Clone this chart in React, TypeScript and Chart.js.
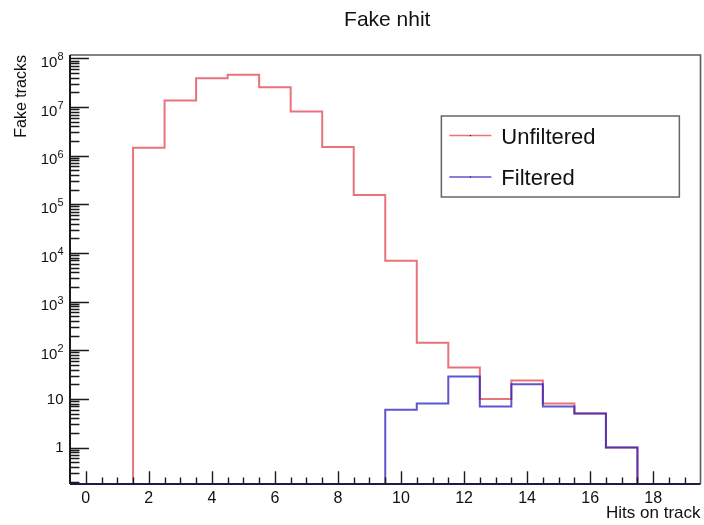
import React, { useEffect, useRef } from "react";
import { Chart, registerables } from "chart.js";

Chart.register(...registerables);

const binCenters = [2, 3, 4, 5, 6, 7, 8, 9, 10, 11, 12, 13, 14, 15, 16, 17];
const unfiltered = [1.45e6, 1.36e7, 3.9e7, 4.6e7, 2.55e7, 8.1e6, 1.5e6, 1.55e5, 6.9e3, 143, 44, 10, 24, 8, 5, 1];
const filtered = [0, 0, 0, 0, 0, 0, 0, 0, 6, 8, 29, 7, 20, 7, 5, 1];
const xTickValues = [0, 2, 4, 6, 8, 10, 12, 14, 16, 18];
const yTickValues = [1, 10, 1e2, 1e3, 1e4, 1e5, 1e6, 1e7, 1e8];
const seriesLabels = ["Unfiltered", "Filtered"];
const titleText = "Fake nhit";
const xTitle = "Hits on track";
const yTitle = "Fake tracks";

const FLOOR = 0.01;
const FONT = "'Liberation Sans', Arial, Helvetica, sans-serif";
const RED = "rgba(220,40,50,0.65)";
const BLUE = "rgba(40,30,190,0.75)";

function histPoints(centers: number[], values: number[]) {
  const i0 = values.findIndex((v) => v > 0);
  let i1 = values.length - 1;
  while (i1 >= 0 && !(values[i1] > 0)) i1--;
  const pts: { x: number; y: number }[] = [];
  if (i0 < 0) return pts;
  pts.push({ x: centers[i0] - 0.5, y: FLOOR });
  for (let i = i0; i <= i1; i++) {
    pts.push({ x: centers[i] - 0.5, y: values[i] > 0 ? values[i] : FLOOR });
  }
  pts.push({ x: centers[i1] + 0.5, y: FLOOR });
  return pts;
}

const decorPlugin = {
  id: "rootDecor",
  afterDatasetsDraw(chart: any) {
    const { ctx, chartArea } = chart;
    const { left, right, top, bottom } = chartArea;
    const xs = chart.scales.x;
    const ys = chart.scales.y;
    ctx.save();
    // frame
    ctx.lineCap = "butt";
    ctx.strokeStyle = "#5a5a5a";
    ctx.lineWidth = 1.6;
    ctx.beginPath();
    ctx.moveTo(left, top);
    ctx.lineTo(right, top);
    ctx.lineTo(right, bottom);
    ctx.stroke();
    ctx.strokeStyle = "#1a1a1a";
    ctx.lineWidth = 2;
    ctx.beginPath();
    ctx.moveTo(left, top);
    ctx.lineTo(left, bottom);
    ctx.stroke();
    ctx.strokeStyle = "#1c1c4a";
    ctx.beginPath();
    ctx.moveTo(left, bottom);
    ctx.lineTo(right, bottom);
    ctx.stroke();

    // y ticks
    const yMajor = 0.03 * (right - left);
    ctx.strokeStyle = "#1a1a1a";
    ctx.lineWidth = 1.4;
    ctx.beginPath();
    for (let e = -1; e <= 8; e++) {
      for (let k = 1; k <= 9; k++) {
        const v = k * Math.pow(10, e);
        if (v < ys.min || v > ys.max) continue;
        const py = Math.round(ys.getPixelForValue(v)) + 0.5;
        const len = k === 1 ? yMajor : yMajor / 2;
        ctx.moveTo(left, py);
        ctx.lineTo(left + len, py);
      }
    }
    ctx.stroke();

    // y tick labels (10 with superscript exponent)
    ctx.fillStyle = "#111";
    ctx.textBaseline = "middle";
    ctx.textAlign = "right";
    const lx = left - 6.5;
    yTickValues.forEach((v) => {
      const py = ys.getPixelForValue(v);
      const e = Math.round(Math.log10(v));
      if (e <= 1) {
        ctx.font = `15px ${FONT}`;
        ctx.fillText(e === 0 ? "1" : "10", lx, py + 0.5);
      } else {
        ctx.font = `11px ${FONT}`;
        const expStr = String(e);
        const ew = ctx.measureText(expStr).width;
        ctx.fillText(expStr, lx, py - 1);
        ctx.font = `15px ${FONT}`;
        ctx.fillText("10", lx - ew, py + 4.5);
      }
    });

    // x ticks
    const xMajor = 0.03 * (bottom - top);
    ctx.beginPath();
    for (let t = 0; t <= 19; t += 0.5) {
      const px = Math.round(xs.getPixelForValue(t)) + 0.5;
      const len = t % 2 === 0 ? xMajor : xMajor / 2;
      ctx.moveTo(px, bottom);
      ctx.lineTo(px, bottom - len);
    }
    ctx.stroke();

    // title
    ctx.fillStyle = "#111";
    ctx.font = `21px ${FONT}`;
    ctx.textAlign = "center";
    ctx.textBaseline = "middle";
    ctx.fillText(titleText, (left + right) / 2 + 2, 20);

    // legend
    const bx = left + 0.589 * (right - left);
    const by = top + 61;
    const bw = 238;
    const bh = 81;
    ctx.fillStyle = "#fff";
    ctx.fillRect(bx, by, bw, bh);
    ctx.strokeStyle = "#666";
    ctx.lineWidth = 1.5;
    ctx.strokeRect(bx, by, bw, bh);
    const colors = [RED, BLUE];
    const rows = [by + 19.5, by + 61];
    ctx.font = `22px ${FONT}`;
    ctx.textAlign = "left";
    for (let i = 0; i < 2; i++) {
      ctx.strokeStyle = colors[i];
      ctx.lineWidth = 1.5;
      ctx.beginPath();
      ctx.moveTo(bx + 8, rows[i]);
      ctx.lineTo(bx + 50, rows[i]);
      ctx.stroke();
      ctx.fillStyle = "#222";
      ctx.fillRect(bx + 28.5, rows[i] - 0.5, 1.2, 1.2);
      ctx.fillStyle = "#111";
      ctx.fillText(seriesLabels[i], bx + 60, rows[i] + 2);
    }
    ctx.restore();
  },
};

export default function App() {
  const ref = useRef<HTMLCanvasElement | null>(null);
  useEffect(() => {
    if (!ref.current) return;
    const chart = new Chart(ref.current, {
      type: "line",
      data: {
        datasets: [
          {
            label: seriesLabels[1],
            data: histPoints(binCenters, filtered),
            borderColor: BLUE,
            borderWidth: 2,
            stepped: "before",
            pointRadius: 0,
            fill: false,
          },
          {
            label: seriesLabels[0],
            data: histPoints(binCenters, unfiltered),
            borderColor: RED,
            borderWidth: 2,
            stepped: "before",
            pointRadius: 0,
            fill: false,
          },
        ],
      },
      options: {
        responsive: false,
        animation: false,
        parsing: false,
        normalized: true,
        layout: { padding: { left: 0, right: 3.5, top: 55, bottom: 0 } },
        plugins: {
          legend: { display: false },
          title: { display: false },
          tooltip: { enabled: false },
        },
        scales: {
          x: {
            type: "linear",
            min: -0.5,
            max: 19.5,
            grid: { display: false, drawTicks: false, tickLength: 0 },
            border: { display: false },
            afterBuildTicks: (s: any) => {
              s.ticks = xTickValues.map((value) => ({ value }));
            },
            afterFit: (s: any) => {
              s.height = 41;
            },
            ticks: {
              autoSkip: false,
              maxRotation: 0,
              padding: 5,
              color: "#111",
              font: { family: FONT, size: 16 },
              callback: (v: any) => String(v),
            },
            title: {
              display: true,
              text: xTitle,
              align: "end",
              color: "#111",
              font: { family: FONT, size: 17 },
              padding: { top: 0, bottom: 1 },
            },
          },
          y: {
            type: "logarithmic",
            min: 0.178,
            max: 1.17e8,
            grid: { display: false, drawTicks: false, tickLength: 0 },
            border: { display: false },
            afterBuildTicks: (s: any) => {
              s.ticks = yTickValues.map((value) => ({ value }));
            },
            afterFit: (s: any) => {
              s.width = 70;
            },
            ticks: { display: false },
            title: {
              display: true,
              text: yTitle,
              align: "end",
              color: "#111",
              font: { family: FONT, size: 16 },
              padding: { top: 12, bottom: 0 },
            },
          },
        },
      },
      plugins: [decorPlugin],
    });
    return () => chart.destroy();
  }, []);
  return (
    <div style={{ position: "absolute", left: 0, top: 0, width: 704, height: 525, background: "#fff" }}>
      <canvas ref={ref} width={704} height={525} style={{ display: "block" }} />
    </div>
  );
}
